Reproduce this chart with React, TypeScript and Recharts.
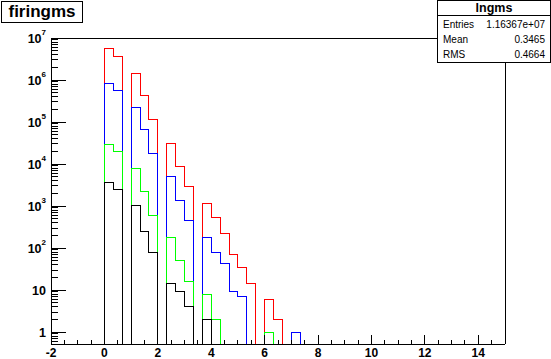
import { ComposedChart, Line, XAxis, YAxis, ReferenceLine } from "recharts";

// lngms histograms, bin width 1/3, first bin starts at x = 0
const BIN_WIDTH = 1 / 3;
const redCounts = [5.5e6, 3.6e6, 0, 1.41e6, 4.2e5, 1.14e5, 0, 30600, 8800, 2950, 0, 1150, 530, 222, 70, 34, 14, 0, 6, 2, 0, 1];
const blueCounts = [8.3e5, 5.6e5, 0, 2.2e5, 66000, 17700, 0, 5000, 1350, 460, 0, 178, 78, 43, 9, 7, 0, 0, 0, 0, 0, 1];
const greenCounts = [29000, 19700, 0, 7800, 2280, 593, 0, 178, 50, 16, 0, 8, 2, 0, 0, 0, 0, 0, 1, 0, 0, 0];
const blackCounts = [3600, 2470, 0, 1030, 252, 80, 0, 14, 9, 4, 0, 2, 0, 0, 0, 0, 0, 0, 0, 0, 0, 0];

const X_MIN = -2;
const X_MAX = 15;
const Y_MIN = 0.52;
const Y_MAX = 1e7;

const xTicks = [-2, -1.5, -1, -0.5, 0, 0.5, 1, 1.5, 2, 2.5, 3, 3.5, 4, 4.5, 5, 5.5, 6, 6.5, 7, 7.5, 8, 8.5, 9, 9.5, 10, 10.5, 11, 11.5, 12, 12.5, 13, 13.5, 14, 14.5];
const xLabels = [-2, 0, 2, 4, 6, 8, 10, 12, 14];
const yMajor = [1, 10, 100, 1e3, 1e4, 1e5, 1e6, 1e7];
const yMinorFactors = [2, 3, 4, 5, 6, 7, 8, 9];
const yBelowOne = [0.6, 0.7, 0.8, 0.9];

const statsTitle = "lngms";
const statsRows = [
  ["Entries", "1.16367e+07"],
  ["Mean", "0.3465"],
  ["RMS", "0.4664"],
];
const histTitle = "firingms";

const FONT = "'Liberation Sans', Arial, Helvetica, sans-serif";

const yTicks = [
  ...yBelowOne,
  ...yMajor.flatMap((m) => (m < Y_MAX ? [m, ...yMinorFactors.map((f) => f * m)] : [m])),
];

const floorOf = (v: number) => (v > 0 ? v : Y_MIN);

const rows: Record<string, number>[] = [
  { x: X_MIN, red: Y_MIN, blue: Y_MIN, green: Y_MIN, black: Y_MIN },
];
for (let k = 0; k <= redCounts.length; k++) {
  rows.push({
    x: k * BIN_WIDTH,
    red: floorOf(redCounts[k] ?? 0),
    blue: floorOf(blueCounts[k] ?? 0),
    green: floorOf(greenCounts[k] ?? 0),
    black: floorOf(blackCounts[k] ?? 0),
  });
}
rows.push({ x: X_MAX, red: Y_MIN, blue: Y_MIN, green: Y_MIN, black: Y_MIN });

const XTick = (props: any) => {
  const { x, y, payload } = props;
  const v = payload.value;
  const major = xLabels.includes(v);
  return (
    <g>
      <line x1={x} x2={x} y1={y} y2={y - (major ? 9 : 4)} stroke="#000" />
      {major && (
        <text x={x} y={y + 12.5} textAnchor="middle" fontSize={12} fontWeight="bold" fontFamily={FONT} fill="#000">
          {v}
        </text>
      )}
    </g>
  );
};

const YTick = (props: any) => {
  const { x, y, payload } = props;
  const v = payload.value;
  const major = yMajor.includes(v);
  const exp = Math.round(Math.log10(v));
  return (
    <g>
      <line x1={x} x2={x + (major ? 15 : 7)} y1={y} y2={y} stroke="#000" />
      {major && (
        <text x={x - 5} y={y + 4.5} textAnchor="end" fontSize={12.5} fontWeight="bold" fontFamily={FONT} fill="#000">
          {exp === 0 ? "1" : "10"}
          {exp > 1 && (
            <tspan dy={-7.5} fontSize={8}>
              {exp}
            </tspan>
          )}
        </text>
      )}
    </g>
  );
};

export default function App() {
  return (
    <div style={{ position: "absolute", left: 0, top: 0, width: 551, height: 359, background: "#fff", overflow: "hidden" }}>
      <style>{`svg line, svg path { shape-rendering: crispEdges; }`}</style>
      <ComposedChart width={551} height={359} data={rows} margin={{ top: 38, right: 46, left: 0, bottom: 0 }}>
        <XAxis
          dataKey="x"
          type="number"
          domain={[X_MIN, X_MAX]}
          ticks={xTicks}
          interval={0}
          tickSize={0}
          tickMargin={0}
          tickLine={false}
          tick={<XTick />}
          height={15}
          stroke="#000"
          allowDataOverflow
        />
        <YAxis
          type="number"
          scale="log"
          domain={[Y_MIN, Y_MAX]}
          ticks={yTicks}
          interval={0}
          tickSize={0}
          tickMargin={0}
          tickLine={false}
          tick={<YTick />}
          width={51}
          stroke="#000"
          allowDataOverflow
        />
        <ReferenceLine y={Y_MAX} stroke="#000" />
        <ReferenceLine x={X_MAX} stroke="#000" />
        <Line dataKey="red" type="stepAfter" stroke="#ff0000" strokeWidth={1} dot={false} isAnimationActive={false} />
        <Line dataKey="blue" type="stepAfter" stroke="#0000ff" strokeWidth={1} dot={false} isAnimationActive={false} />
        <Line dataKey="green" type="stepAfter" stroke="#00ff00" strokeWidth={1} dot={false} isAnimationActive={false} />
        <Line dataKey="black" type="stepAfter" stroke="#000000" strokeWidth={1} dot={false} isAnimationActive={false} />
      </ComposedChart>

      <div
        style={{
          position: "absolute",
          left: 1,
          top: 1,
          width: 80,
          height: 20,
          border: "1px solid #000",
          background: "#fff",
          fontFamily: FONT,
          fontWeight: "bold",
          fontSize: 17,
          lineHeight: "20px",
          textAlign: "center",
        }}
      >
        {histTitle}
      </div>

      <div
        style={{
          position: "absolute",
          left: 437,
          top: 0,
          width: 112,
          height: 61,
          border: "1px solid #000",
          background: "#fff",
          fontFamily: FONT,
        }}
      >
        <div style={{ height: 14, borderBottom: "1px solid #000", textAlign: "center", fontWeight: "bold", fontSize: 12.5, lineHeight: "14px" }}>
          {statsTitle}
        </div>
        {statsRows.map(([k, v]) => (
          <div key={k} style={{ display: "flex", justifyContent: "space-between", fontSize: 10, height: 15, lineHeight: "15px", padding: "0 5px 0 5px", marginTop: k === "Entries" ? 1 : 0 }}>
            <span>{k}</span>
            <span>{v}</span>
          </div>
        ))}
      </div>
    </div>
  );
}
